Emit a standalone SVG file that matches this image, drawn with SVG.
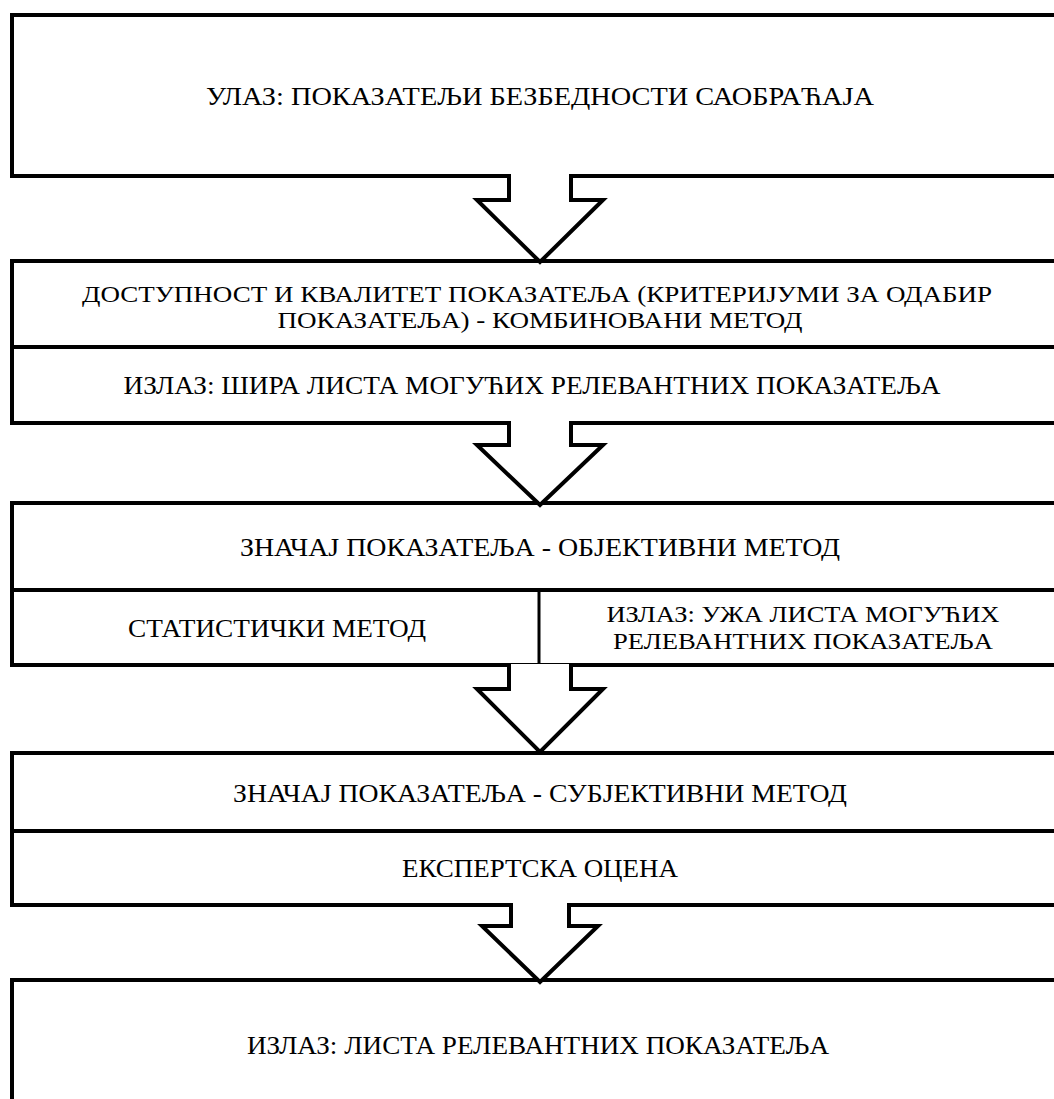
<svg xmlns="http://www.w3.org/2000/svg" width="1054" height="1099" viewBox="0 0 1054 1099">
<style>
.box{fill:#fff;stroke:#000;stroke-width:4}
.div{stroke:#000;stroke-width:4;fill:none}
.vdiv{stroke:#000;stroke-width:3;fill:none}
.arrow{fill:#fff;stroke:#000;stroke-width:4;stroke-linejoin:miter}
.t{font-family:"Liberation Serif","DejaVu Serif",serif;font-size:25px;fill:#000;text-anchor:middle}
.t2{font-family:"Liberation Serif","DejaVu Serif",serif;font-size:24px;fill:#000;text-anchor:middle}
</style>
<rect x="0" y="0" width="1054" height="1099" fill="#fff"/>
<g id="node-input">
<rect class="box" x="12" y="15" width="1060" height="161"/>
<text class="t" x="540" y="105" textLength="668" lengthAdjust="spacingAndGlyphs">УЛАЗ: ПОКАЗАТЕЉИ БЕЗБЕДНОСТИ САОБРАЋАЈА</text>
</g>
<g id="node-availability">
<rect class="box" x="12" y="261" width="1060" height="162"/>
<line class="div" x1="12" y1="347" x2="1072" y2="347"/>
<text class="t2" x="537" y="302" textLength="910" lengthAdjust="spacingAndGlyphs">ДОСТУПНОСТ И КВАЛИТЕТ ПОКАЗАТЕЉА (КРИТЕРИЈУМИ ЗА ОДАБИР</text>
<text class="t2" x="540" y="328" textLength="525" lengthAdjust="spacingAndGlyphs">ПОКАЗАТЕЉА) - КОМБИНОВАНИ МЕТОД</text>
<text class="t" x="532" y="394" textLength="817" lengthAdjust="spacingAndGlyphs">ИЗЛАЗ: ШИРА ЛИСТА МОГУЋИХ РЕЛЕВАНТНИХ ПОКАЗАТЕЉА</text>
</g>
<g id="node-objective">
<rect class="box" x="12" y="503" width="1060" height="162"/>
<line class="div" x1="12" y1="590" x2="1072" y2="590"/>
<line class="vdiv" x1="539" y1="590" x2="539" y2="665"/>
<text class="t" x="540" y="556" textLength="600" lengthAdjust="spacingAndGlyphs">ЗНАЧАЈ ПОКАЗАТЕЉА - ОБЈЕКТИВНИ МЕТОД</text>
<text class="t" x="277" y="637" textLength="298" lengthAdjust="spacingAndGlyphs">СТАТИСТИЧКИ МЕТОД</text>
<text class="t2" x="803" y="622" textLength="393" lengthAdjust="spacingAndGlyphs">ИЗЛАЗ: УЖА ЛИСТА МОГУЋИХ</text>
<text class="t2" x="803" y="649" textLength="380" lengthAdjust="spacingAndGlyphs">РЕЛЕВАНТНИХ ПОКАЗАТЕЉА</text>
</g>
<g id="node-subjective">
<rect class="box" x="12" y="753" width="1060" height="152"/>
<line class="div" x1="12" y1="831" x2="1072" y2="831"/>
<text class="t" x="540" y="802" textLength="614" lengthAdjust="spacingAndGlyphs">ЗНАЧАЈ ПОКАЗАТЕЉА - СУБЈЕКТИВНИ МЕТОД</text>
<text class="t" x="540" y="877" textLength="276" lengthAdjust="spacingAndGlyphs">ЕКСПЕРТСКА ОЦЕНА</text>
</g>
<g id="node-output">
<rect class="box" x="12" y="980" width="1060" height="140"/>
<text class="t" x="538" y="1054" textLength="582" lengthAdjust="spacingAndGlyphs">ИЗЛАЗ: ЛИСТА РЕЛЕВАНТНИХ ПОКАЗАТЕЉА</text>
</g>
<g id="connectors">
<path class="arrow" d="M509,174 V200 H477 L540,262 L603,200 H571 V174"/>
<path class="arrow" d="M509,421 V445 H477 L540,505 L603,445 H571 V421"/>
<path class="arrow" d="M509,664 V689 H477 L540,752 L603,689 H571 V664"/>
<path class="arrow" d="M511,903 V926 H482 L540,982 L598,926 H569 V903"/>
</g>
</svg>
